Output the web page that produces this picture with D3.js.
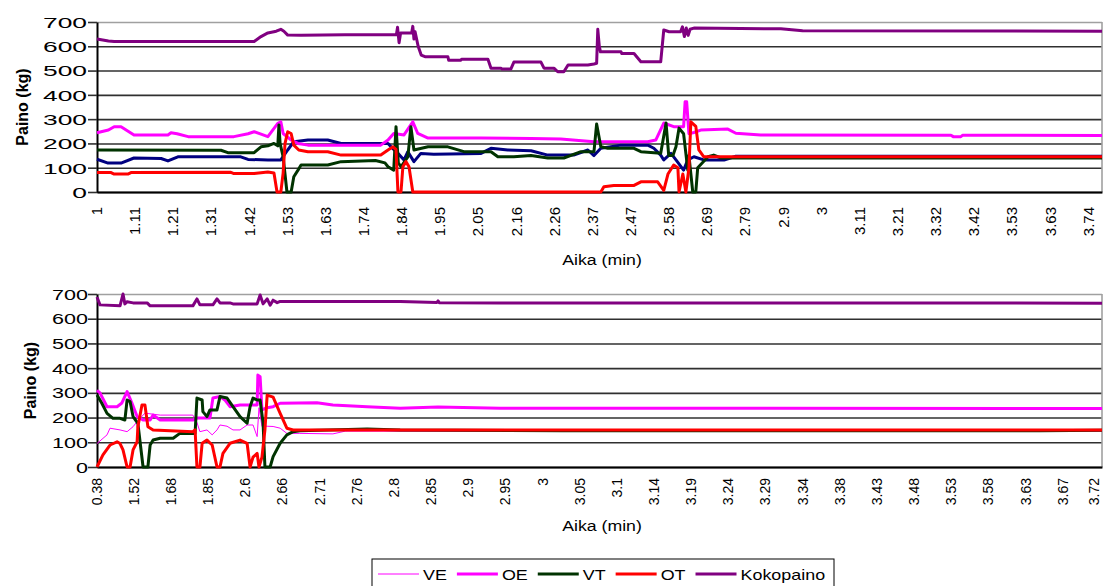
<!DOCTYPE html>
<html lang="fi">
<head>
<meta charset="UTF-8">
<title>Paino / Aika</title>
<script src="https://d3js.org/d3.v7.min.js"></script>
<style>
  body { margin: 0; background: #fff; }
  svg text { font-family: "Liberation Sans", Arial, sans-serif; fill: #000; }
</style>
</head>
<body>
<svg id="main" width="1104" height="586"></svg>
<script>
// tick labels (categories, every label slot)
const topTicks = ["1","1.11","1.21","1.31","1.42","1.53","1.63","1.74","1.84","1.95","2.05","2.16","2.26","2.37","2.47","2.58","2.69","2.79","2.9","3","3.11","3.21","3.32","3.42","3.53","3.63","3.74"];
const botTicks = ["0.38","1.52","1.68","1.85","2.6","2.66","2.71","2.76","2.8","2.85","2.9","2.95","3","3.05","3.1","3.14","3.19","3.24","3.29","3.34","3.38","3.43","3.48","3.53","3.58","3.63","3.67","3.72"];
const yTicks = [0, 100, 200, 300, 400, 500, 600, 700];

// series: [label slot, kg]
const topVE = [[0,135],[0.29,119],[0.63,119],[0.97,140],[1.68,138],[1.86,128],[2.12,145],[3.77,145],[3.96,134],[4.48,132],[4.82,132],[5.0,173],[5.16,207],[5.53,214],[6.05,214],[6.4,200],[7.63,200],[7.71,186],[7.89,159],[8.05,132],[8.15,166],[8.31,125],[8.49,159],[8.83,155],[10.07,159],[10.33,180],[10.77,173],[11.38,170],[11.82,152],[12.5,152],[12.87,173],[13.03,150],[13.21,180],[13.74,193],[14.44,193],[14.6,180],[14.78,152],[14.86,132],[15.05,159],[15.18,132],[15.38,90],[15.49,132],[15.65,145],[15.91,132],[16.44,132],[16.75,147],[26.35,147]];
const topOE = [[0,244],[0.3,255],[0.45,269],[0.63,269],[0.97,235],[1.86,235],[1.94,244],[2.1,240],[2.39,228],[3.59,228],[3.96,240],[4.12,248],[4.3,238],[4.48,228],[4.74,283],[4.82,289],[4.88,241],[5.09,214],[5.27,200],[5.53,193],[7.44,193],[7.63,214],[7.78,241],[8.05,235],[8.28,289],[8.41,241],[8.68,222],[10.07,222],[11.38,220],[12.16,218],[13.03,207],[14.44,207],[14.65,214],[14.86,284],[15.12,269],[15.38,269],[15.42,372],[15.46,372],[15.52,240],[15.65,245],[15.83,255],[16.54,259],[16.75,242],[17.4,235],[22.39,234],[22.45,228],[22.65,228],[22.7,234],[26.35,233]];
const topVT = [[0,173],[3.25,172],[3.43,162],[4.12,162],[4.3,186],[4.48,190],[4.64,200],[4.74,190],[4.77,276],[4.8,200],[4.88,145],[4.98,0],[5.09,0],[5.16,63],[5.27,90],[5.35,111],[6.05,111],[6.4,125],[7.3,130],[7.55,120],[7.63,104],[7.78,90],[7.84,269],[7.9,120],[7.97,104],[8.15,145],[8.23,269],[8.31,173],[8.68,186],[9.2,186],[9.62,166],[10.33,166],[10.51,145],[10.93,145],[11.38,150],[11.82,140],[12.24,140],[12.69,166],[13.03,166],[13.1,280],[13.21,186],[13.39,180],[14.08,180],[14.26,166],[14.78,160],[14.92,284],[14.99,150],[15.1,150],[15.18,186],[15.26,263],[15.38,240],[15.49,90],[15.52,150],[15.62,0],[15.7,0],[15.75,100],[16.02,145],[16.17,152],[16.36,140],[26.35,140]];
const topOT = [[0,80],[0.37,80],[0.45,74],[0.81,74],[0.89,80],[3.51,81],[3.59,76],[4.12,76],[4.48,82],[4.64,78],[4.72,0],[4.82,0],[4.88,78],[4.93,200],[5.0,248],[5.09,241],[5.16,193],[5.29,173],[5.53,166],[6.05,166],[6.4,152],[7.44,152],[7.63,173],[7.76,186],[7.84,175],[7.89,0],[7.97,0],[8.02,104],[8.1,125],[8.18,104],[8.28,0],[13.21,0],[13.29,22],[13.55,27],[14.08,27],[14.26,42],[14.7,42],[14.86,7],[14.97,74],[15.12,111],[15.23,100],[15.26,0],[15.36,74],[15.44,0],[15.52,100],[15.57,289],[15.7,270],[15.78,173],[15.91,145],[26.35,145]];
const topKoko = [[0,630],[0.3,622],[0.45,620],[4.12,620],[4.3,640],[4.48,655],[4.7,662],[4.82,670],[4.9,662],[5.0,646],[5.35,645],[6.5,648],[7.85,648],[7.88,678],[7.92,615],[7.96,655],[8.25,655],[8.28,682],[8.31,630],[8.34,660],[8.42,600],[8.5,564],[8.6,557],[9.2,557],[9.22,543],[9.54,543],[9.56,547],[10.25,547],[10.33,510],[10.59,510],[10.62,506],[10.85,506],[10.93,535],[11.64,535],[11.72,510],[11.98,510],[12.08,495],[12.24,495],[12.35,523],[12.87,523],[13.03,527],[13.1,530],[13.13,670],[13.17,600],[13.2,577],[13.74,577],[13.76,570],[14.08,570],[14.26,536],[14.78,536],[14.86,667],[15.0,660],[15.3,660],[15.35,680],[15.4,640],[15.45,675],[15.5,645],[15.55,670],[15.65,675],[17.93,672],[18.5,664],[26.35,662]];

const botVE = [[0,95],[0.27,130],[0.35,157],[0.62,150],[0.81,143],[0.97,163],[1.08,184],[1.29,218],[1.7,210],[2.58,210],[2.69,180],[2.77,143],[2.96,150],[3.1,130],[3.23,150],[3.31,170],[3.5,165],[3.66,150],[3.85,150],[4.04,170],[4.2,170],[4.31,123],[4.36,240],[4.44,164],[4.58,165],[4.74,164],[4.93,157],[5.11,136],[5.46,136],[6.35,134],[6.68,145],[27.05,145]];
const botOE = [[0,310],[0.08,300],[0.27,244],[0.54,244],[0.67,259],[0.81,305],[0.94,259],[1.08,204],[1.24,190],[1.43,190],[1.51,210],[1.7,190],[2.58,190],[2.69,198],[3.04,198],[3.12,279],[3.31,285],[3.45,270],[3.58,244],[3.85,251],[4.31,251],[4.33,372],[4.39,365],[4.44,231],[4.58,240],[4.74,244],[4.93,258],[5.92,260],[6.35,251],[7.27,244],[8.16,238],[9.18,243],[10.85,238],[27.05,237]];
const botVT = [[0,291],[0.13,258],[0.27,217],[0.43,197],[0.62,197],[0.75,190],[0.81,271],[0.89,265],[0.97,204],[1.1,177],[1.24,0],[1.37,0],[1.43,89],[1.51,109],[1.7,116],[2.05,116],[2.23,136],[2.64,136],[2.69,279],[2.83,271],[2.85,224],[2.96,204],[3.04,231],[3.23,231],[3.31,285],[3.5,279],[3.66,244],[3.85,204],[4.04,177],[4.12,244],[4.2,279],[4.31,271],[4.39,271],[4.47,177],[4.52,0],[4.66,0],[4.74,42],[4.93,96],[5.11,130],[5.28,143],[5.46,147],[7.27,154],[8.16,150],[12.54,147],[25.38,147],[27.05,149]];
const botOT = [[0,0],[0.16,49],[0.35,89],[0.54,102],[0.62,95],[0.7,69],[0.81,0],[0.89,0],[0.97,69],[1.08,102],[1.1,163],[1.21,251],[1.29,251],[1.37,163],[1.51,150],[2.58,143],[2.64,150],[2.69,0],[2.77,0],[2.83,96],[2.96,109],[3.1,89],[3.23,0],[3.31,0],[3.39,55],[3.58,96],[3.85,109],[4.04,96],[4.12,0],[4.2,40],[4.31,55],[4.36,0],[4.44,40],[4.52,150],[4.58,291],[4.74,283],[4.93,217],[5.11,157],[5.28,150],[12.54,150],[27.05,150]];
const botKoko = [[0,688],[0.08,656],[0.62,652],[0.7,700],[0.75,660],[0.81,669],[0.97,664],[1.35,664],[1.43,652],[2.58,652],[2.69,680],[2.77,656],[3.12,656],[3.23,680],[3.31,664],[3.58,664],[3.66,660],[4.31,660],[4.39,696],[4.47,660],[4.58,680],[4.66,655],[4.74,675],[4.85,665],[4.93,670],[8.16,670],[9.15,666],[9.18,672],[9.21,665],[10.85,664],[27.05,663]];

const legendNames = ["VE", "OE", "VT", "OT", "Kokopaino"];

const svg = d3.select("svg#main");
const left = 97, right = 1102;

function drawPanel(p) {
    const x = d3.scaleLinear().domain([0, p.xMax]).range([left, right]);
    const y = d3.scaleLinear().domain([0, 700]).range([p.bottom, p.top]);
    const g = svg.append("g");

    // grid lines
    const grid = g.append("g")
        .attr("transform", `translate(${left},0)`)
        .call(d3.axisRight(y).tickValues(yTicks).tickSize(right - left).tickFormat(""));
    grid.select(".domain").remove();
    grid.selectAll("line")
        .attr("stroke", d => d === 700 ? "#a0a0a0" : "#303030")
        .attr("stroke-width", 1.6);
    g.append("line")
        .attr("x1", right).attr("x2", right).attr("y1", p.top).attr("y2", p.bottom)
        .attr("stroke", "#a0a0a0").attr("stroke-width", 1.6);

    // y axis
    const ya = g.append("g")
        .attr("transform", `translate(${left},0)`)
        .call(d3.axisLeft(y).tickValues(yTicks).tickSize(9).tickSizeOuter(0));
    ya.select(".domain").attr("stroke", "#000").attr("stroke-width", 2);
    ya.selectAll("line").attr("stroke", "#303030").attr("stroke-width", 1.6);
    ya.selectAll("text")
        .attr("x", 0).attr("dy", "0.36em")
        .attr("transform", `translate(${p.yLabelGap},0) scale(${p.yLabelScale},1)`)
        .style("font-size", p.yLabelSize + "px");

    // x axis
    const xa = g.append("g")
        .attr("transform", `translate(0,${p.bottom})`)
        .call(d3.axisBottom(x).tickValues(d3.range(p.ticks.length))
            .tickFormat(i => p.ticks[i]).tickSize(0).tickSizeOuter(0));
    xa.select(".domain").attr("stroke", "#000").attr("stroke-width", 2);
    xa.selectAll("text")
        .attr("x", 0).attr("y", 0).attr("dy", "0.3em")
        .attr("transform", `translate(0,${p.xLabelGap}) rotate(-90)`)
        .style("text-anchor", "end")
        .style("font-size", p.xLabelSize + "px")
        .each(function () {
            // keep a label at the right edge inside the picture
            const b = this.getBoundingClientRect();
            if (b.right > 1102) {
                d3.select(this).attr("transform",
                    `translate(${1102 - b.right},${p.xLabelGap}) rotate(-90)`);
            }
        });

    // series
    const line = d3.line().x(d => x(d[0])).y(d => y(d[1]));
    p.series.forEach(s => {
        g.append("path")
            .datum(s.data)
            .attr("d", line)
            .attr("fill", "none")
            .attr("stroke", s.color)
            .attr("stroke-width", s.width)
            .attr("stroke-linejoin", "round");
    });

    // axis titles
    g.append("text")
        .attr("transform", `translate(${p.yTitleX},${(p.top + p.bottom) / 2}) rotate(-90)`)
        .attr("text-anchor", "middle")
        .style("font-size", "16px").style("font-weight", "bold")
        .text("Paino (kg)");
    g.append("text")
        .attr("transform", `translate(602,${p.xTitleY}) scale(1.18,1)`)
        .attr("text-anchor", "middle")
        .style("font-size", "15px")
        .text("Aika (min)");
}

drawPanel({
    top: 22, bottom: 192, xMax: 26.35, ticks: topTicks,
    yLabelGap: -10, yLabelScale: 1.76, yLabelSize: 15, xLabelGap: 15, xLabelSize: 15,
    yTitleX: 28, xTitleY: 265,
    series: [
        {data: topVE, color: "#000080", width: 3},
        {data: topOE, color: "#ff00ff", width: 3},
        {data: topVT, color: "#003300", width: 3},
        {data: topOT, color: "#ff0000", width: 3},
        {data: topKoko, color: "#800080", width: 3}
    ]
});

const botColors = ["#ff00ff", "#ff00ff", "#003300", "#ff0000", "#800080"];
const botWidths = [1, 3, 3, 3, 3];
drawPanel({
    top: 294, bottom: 467, xMax: 27.05, ticks: botTicks,
    yLabelGap: -9, yLabelScale: 1.54, yLabelSize: 14, xLabelGap: 11, xLabelSize: 14,
    yTitleX: 36, xTitleY: 531,
    series: [botVE, botOE, botVT, botOT, botKoko].map((d, i) => ({data: d, color: botColors[i], width: botWidths[i]}))
});

// legend
const lg = svg.append("g");
lg.append("rect")
    .attr("x", 372).attr("y", 559).attr("width", 462).attr("height", 40)
    .attr("fill", "#fff").attr("stroke", "#000").attr("stroke-width", 1);
let lx = 378;
legendNames.forEach((name, i) => {
    lg.append("line")
        .attr("x1", lx).attr("x2", lx + 41).attr("y1", 574).attr("y2", 574)
        .attr("stroke", botColors[i]).attr("stroke-width", botWidths[i] === 1 ? 1 : 3);
    const t = lg.append("text")
        .attr("transform", `translate(${lx + 45},580) scale(1.28,1)`)
        .style("font-size", "14px")
        .text(name);
    lx += 45 + t.node().getComputedTextLength() * 1.28 + 10;
});
</script>
</body>
</html>
